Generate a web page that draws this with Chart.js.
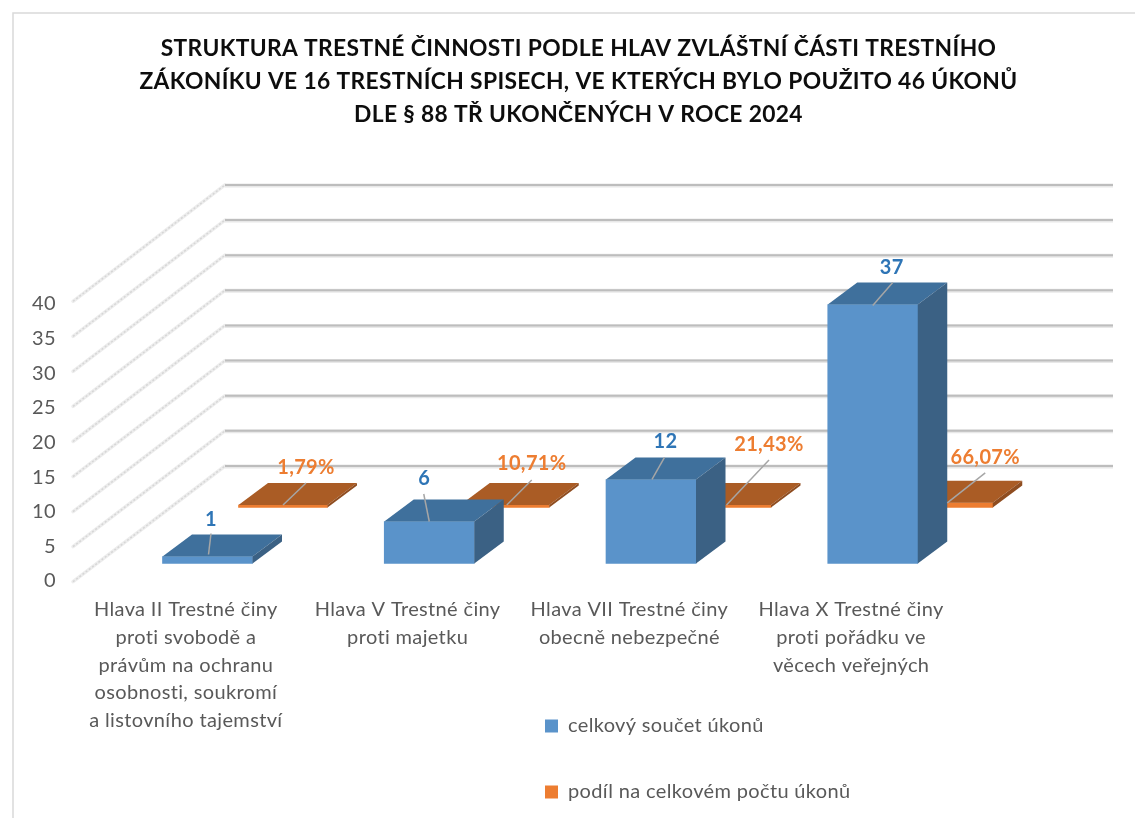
<!DOCTYPE html>
<html><head><meta charset="utf-8">
<script src="https://cdn.jsdelivr.net/npm/chart.js@4"></script>
<style>html,body{margin:0;padding:0;background:#fff}canvas{display:block}</style>
</head><body>
<canvas id="c" width="1135" height="818"></canvas>
<script>
const titleLines = [
  "STRUKTURA TRESTNÉ ČINNOSTI PODLE HLAV ZVLÁŠTNÍ ČÁSTI TRESTNÍHO",
  "ZÁKONÍKU VE 16 TRESTNÍCH SPISECH, VE KTERÝCH BYLO POUŽITO 46 ÚKONŮ",
  "DLE § 88 TŘ UKONČENÝCH V ROCE 2024"
];
const categories = [
  ["Hlava II Trestné činy","proti svobodě a","právům na ochranu","osobnosti, soukromí","a listovního tajemství"],
  ["Hlava V Trestné činy","proti majetku"],
  ["Hlava VII Trestné činy","obecně nebezpečné"],
  ["Hlava X Trestné činy","proti pořádku ve","věcech veřejných"]
];
const totals = [1, 6, 12, 37];
const shares = [0.0179, 0.1071, 0.2143, 0.6607];
const seriesNames = ["celkový součet úkonů", "podíl na celkovém počtu úkonů"];
const yTicks = [0, 5, 10, 15, 20, 25, 30, 35, 40];

const FONT = "Lato, 'Open Sans', sans-serif";
const GREY = "#595959";
const DEPTH = {dx: 29.5, dy: -22};
const FACES = [
  {top: "#3F709C", side: "#3B6184"},
  {top: "#AA5C25", side: "#8F4D20"}
];
// label and leader-line offsets relative to each bar's own top-centre point
const LABEL_OFFS = [
  [{lx:3.5,ly:-37,sx:1,sy:-2,ex:3.5,ey:-23},{lx:-5,ly:-42.5,sx:0,sy:0,ex:-5.5,ey:-27.5},{lx:14.5,ly:-38,sx:1,sy:0,ex:13.5,ey:-22},{lx:19,ly:-37,sx:0,sy:1,ex:20,ey:-22}],
  [{lx:23,ly:-37,sx:0,sy:0,ex:23,ey:-22},{lx:27,ly:-41,sx:2,sy:0,ex:27,ey:-25},{lx:42.5,ly:-60,sx:0,sy:0,ex:42.5,ey:-45},{lx:37,ly:-45.5,sx:-1,sy:0,ex:37,ey:-30}]
];

const fixedRange = (zeroPx, pxPerUnit, bottom, height) => {
  const min = -(bottom - zeroPx) / pxPerUnit;
  return {min, max: min + height / pxPerUnit};
};
const AREA = {left: 75, right: 962, top: 304, bottom: 581};
const H = AREA.bottom - AREA.top, UNIT = (AREA.right - AREA.left) / categories.length;
const hiddenY = (zero, ppu) => Object.assign({type: "linear", axis: "y", display: false}, fixedRange(zero, ppu, AREA.bottom, H));
const hiddenX = (center0) => {
  const min = -(center0 - AREA.left) / UNIT;
  return {type: "linear", axis: "x", display: false, offset: false, min, max: min + categories.length};
};

const scene = {
  id: "scene",
  beforeDraw(chart) { chart.ctx.letterSpacing = "0.35px"; },
  afterLayout(chart) {
    const t = chart.titleBlock;
    t.left = 0; t.right = 1157;
    const l = chart.legend;
    l.left = 499; l.top = 670; l.right = 1135; l.bottom = 2000;
  },
  beforeDatasetsDraw(chart) {
    const ctx = chart.ctx, s = chart.scales;
    ctx.save();
    ctx.strokeStyle = "#D9D9D9"; ctx.lineWidth = 1.5;
    ctx.beginPath(); ctx.moveTo(13, 818); ctx.lineTo(13, 13); ctx.lineTo(1135, 13); ctx.stroke();
    yTicks.forEach(v => {
      const wy = s.yWall.getPixelForValue(v), fy = s.yFront.getPixelForValue(v);
      ctx.lineCap = "round";
      ctx.strokeStyle = "#EDEDED"; ctx.lineWidth = 3.5;
      ctx.beginPath(); ctx.moveTo(73, fy); ctx.lineTo(225, wy); ctx.stroke();
      ctx.lineCap = "butt";
      ctx.strokeStyle = "#D6D6D6"; ctx.lineWidth = 1.5; ctx.setLineDash([2, 2]);
      ctx.beginPath(); ctx.moveTo(73, fy); ctx.lineTo(225, wy); ctx.stroke();
      ctx.setLineDash([]);
      ctx.strokeStyle = "#E8E8E8"; ctx.lineWidth = 4;
      ctx.beginPath(); ctx.moveTo(225, wy + 0.5); ctx.lineTo(1113, wy + 0.5); ctx.stroke();
      ctx.strokeStyle = "#BDBDBD"; ctx.lineWidth = 2;
      ctx.beginPath(); ctx.moveTo(225, wy); ctx.lineTo(1113, wy); ctx.stroke();
    });
    ctx.restore();
  },
  afterDatasetDraw(chart, args) {
    const ctx = chart.ctx, f = FACES[args.index];
    ctx.save();
    args.meta.data.forEach(b => {
      const L = b.x - b.width / 2, R = b.x + b.width / 2, T = b.y, B = b.base;
      ctx.fillStyle = f.top;
      ctx.beginPath(); ctx.moveTo(L, T); ctx.lineTo(L + DEPTH.dx, T + DEPTH.dy); ctx.lineTo(R + DEPTH.dx, T + DEPTH.dy); ctx.lineTo(R, T); ctx.closePath(); ctx.fill();
      ctx.fillStyle = f.side;
      ctx.beginPath(); ctx.moveTo(R, T); ctx.lineTo(R + DEPTH.dx, T + DEPTH.dy); ctx.lineTo(R + DEPTH.dx, B + DEPTH.dy); ctx.lineTo(R, B); ctx.closePath(); ctx.fill();
    });
    ctx.restore();
  },
  afterDatasetsDraw(chart) {
    const ctx = chart.ctx;
    ctx.save();
    [0, 1].forEach(d => {
      chart.getDatasetMeta(d).data.forEach((b, i) => {
        const o = LABEL_OFFS[d][i];
        ctx.strokeStyle = "#A6A6A6"; ctx.lineWidth = 1.5;
        ctx.beginPath(); ctx.moveTo(b.x + o.sx, b.y + o.sy); ctx.lineTo(b.x + o.ex, b.y + o.ey); ctx.stroke();
      });
    });
    ctx.textAlign = "center"; ctx.textBaseline = "middle";
    ctx.font = "bold 20px " + FONT;
    [0, 1].forEach(d => {
      chart.getDatasetMeta(d).data.forEach((b, i) => {
        const o = LABEL_OFFS[d][i];
        const text = d === 0 ? String(totals[i]) : (shares[i] * 100).toFixed(2).replace(".", ",") + "%";
        ctx.fillStyle = d === 0 ? "#2E75B6" : "#ED7D31";
        ctx.fillText(text, b.x + o.lx, b.y + o.ly);
      });
    });
    ctx.restore();
  }
};

new Chart(document.getElementById("c"), {
  type: "bar",
  plugins: [scene],
  data: {
    labels: categories,
    datasets: [
      {label: seriesNames[0], data: totals.map((v, i) => ({x: i, y: v})), xAxisID: "xBlue", yAxisID: "yBlue", grouped: false,
       backgroundColor: "#5A93CA", barThickness: 90, order: 1, clip: false},
      {label: seriesNames[1], data: shares.map((v, i) => ({x: i, y: v})), xAxisID: "xOrange", yAxisID: "yOrange", grouped: false,
       backgroundColor: "#ED7D31", barThickness: 89, minBarLength: 2.5, order: 2, clip: false}
    ]
  },
  options: {
    responsive: false, animation: false,
    layout: {padding: {left: 0, top: 0, bottom: 0, right: 1135 - AREA.right}},
    plugins: {
      tooltip: {enabled: false},
      title: {display: true, text: titleLines, color: "#0D0D0D",
        font: {family: FONT, size: 22.8, weight: "bold", lineHeight: 1.447},
        padding: {top: 32, bottom: 173}},
      legend: {position: "chartArea", align: "start",
        labels: {boxWidth: 13, boxHeight: 13, padding: 46, color: GREY,
          font: {family: FONT, size: 20, lineHeight: 1.2}}}
    },
    scales: {
      x: {type: "category", offset: true, grid: {display: false}, border: {display: false},
        afterFit: s => { s.height = 818 - AREA.bottom; },
        ticks: {color: GREY, font: {family: FONT, size: 20, lineHeight: 1.385}, padding: 7, maxRotation: 0, minRotation: 0, autoSkip: false}},
      y: {type: "linear", min: 0, max: 40, grid: {display: false, drawTicks: false}, border: {display: false},
        afterFit: s => { s.width = AREA.left; },
        afterBuildTicks: s => { s.ticks = yTicks.map(value => ({value})); },
        ticks: {color: GREY, font: {family: FONT, size: 20}, padding: 19}},
      xBlue: hiddenX(207.5),
      xOrange: hiddenX(283),
      yBlue: hiddenY(563.5, 7),
      yOrange: hiddenY(507.5, 7),
      yWall: hiddenY(466, 7.025),
      yFront: hiddenY(581.7, 7.01)
    }
  }
});
</script>
</body></html>
